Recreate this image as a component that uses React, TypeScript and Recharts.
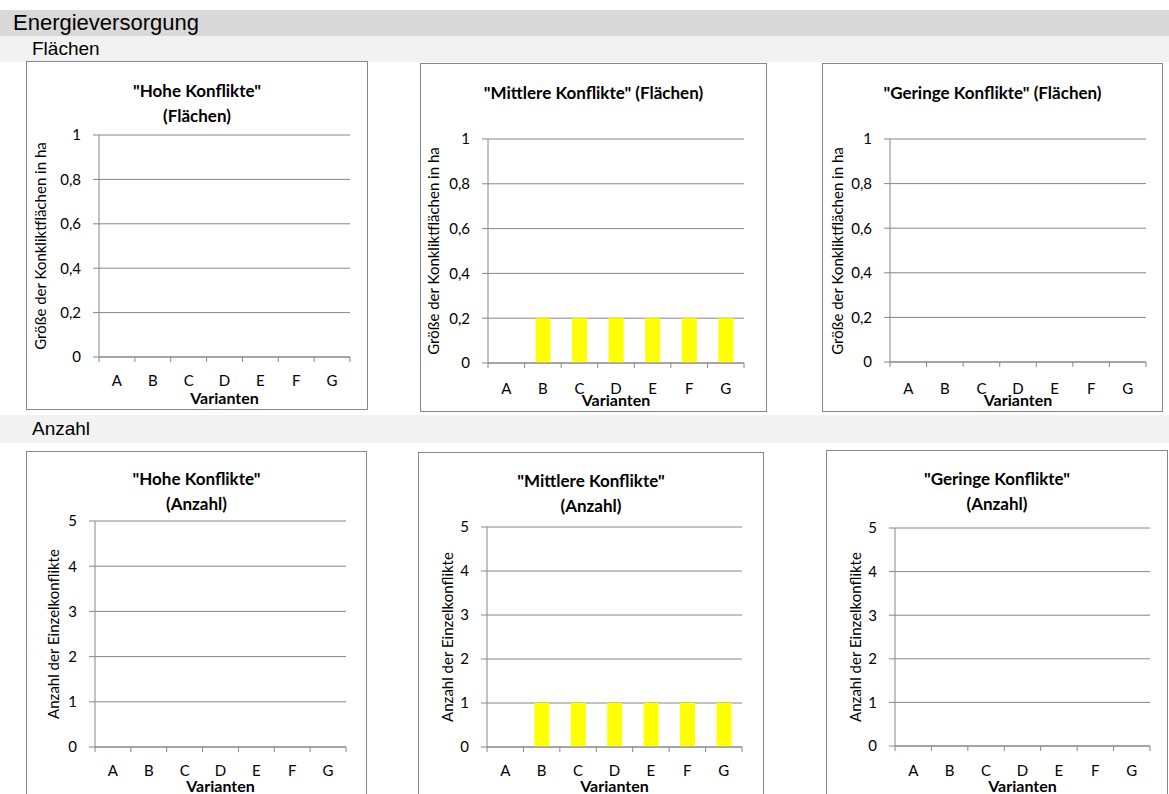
import { BarChart, Bar, XAxis, YAxis, CartesianGrid } from "recharts";

const categories = ["A", "B", "C", "D", "E", "F", "G"];

const hoheFlaechen = [0, 0, 0, 0, 0, 0, 0];
const mittlereFlaechen = [0, 0.2, 0.2, 0.2, 0.2, 0.2, 0.2];
const geringeFlaechen = [0, 0, 0, 0, 0, 0, 0];

const hoheAnzahl = [0, 0, 0, 0, 0, 0, 0];
const mittlereAnzahl = [0, 1, 1, 1, 1, 1, 1];
const geringeAnzahl = [0, 0, 0, 0, 0, 0, 0];

const flaechenTicks = [0, 0.2, 0.4, 0.6, 0.8, 1];
const anzahlTicks = [0, 1, 2, 3, 4, 5];

const flaechenLabel = "Größe der Konkliktflächen in ha";
const anzahlLabel = "Anzahl der Einzelkonflikte";

const GRID = "#868686";
const CHART_FONT = "Lato, 'Open Sans', sans-serif";
const HEAD_FONT = "'Liberation Sans', Arial, sans-serif";
const Y_W = 60;
const X_H = 40;

type PanelCfg = {
  box: number[]; // left, top, right, bottom
  plot: number[]; // left, top, right, bottom
  title: string[];
  titleY: number;
  yLabel: string;
  yLabelX: number;
  values: number[];
  ticks: number[];
  catDy: number;
  varDy: number;
};

const panels: PanelCfg[] = [
  {
    box: [26, 61, 368, 410],
    plot: [99, 135, 350, 357],
    title: ['"Hohe Konflikte"', "(Flächen)"],
    titleY: 90,
    yLabel: flaechenLabel,
    yLabelX: 40,
    values: hoheFlaechen,
    ticks: flaechenTicks,
    catDy: 23,
    varDy: 41,
  },
  {
    box: [420, 63, 767, 412],
    plot: [488, 139, 744, 363],
    title: ['"Mittlere Konflikte" (Flächen)'],
    titleY: 92,
    yLabel: flaechenLabel,
    yLabelX: 433,
    values: mittlereFlaechen,
    ticks: flaechenTicks,
    catDy: 25,
    varDy: 37,
  },
  {
    box: [822, 63, 1163, 412],
    plot: [890, 139, 1146, 362],
    title: ['"Geringe Konflikte" (Flächen)'],
    titleY: 92,
    yLabel: flaechenLabel,
    yLabelX: 837,
    values: geringeFlaechen,
    ticks: flaechenTicks,
    catDy: 26,
    varDy: 38,
  },
  {
    box: [26, 451, 367, 810],
    plot: [95, 521, 346, 747],
    title: ['"Hohe Konflikte"', "(Anzahl)"],
    titleY: 478,
    yLabel: anzahlLabel,
    yLabelX: 53,
    values: hoheAnzahl,
    ticks: anzahlTicks,
    catDy: 23,
    varDy: 39,
  },
  {
    box: [418, 452, 764, 810],
    plot: [487, 527, 742, 747],
    title: ['"Mittlere Konflikte"', "(Anzahl)"],
    titleY: 480,
    yLabel: anzahlLabel,
    yLabelX: 447,
    values: mittlereAnzahl,
    ticks: anzahlTicks,
    catDy: 23,
    varDy: 39,
  },
  {
    box: [826, 450, 1168, 810],
    plot: [895, 528, 1150, 746],
    title: ['"Geringe Konflikte"', "(Anzahl)"],
    titleY: 478,
    yLabel: anzahlLabel,
    yLabelX: 855,
    values: geringeAnzahl,
    ticks: anzahlTicks,
    catDy: 24,
    varDy: 40,
  },
];

// category labels sit in the band centre, tick marks go on the band edges
function categoryTick(props: any, dy: number) {
  const { x, y, payload, index, visibleTicksCount } = props;
  const half = payload?.offset || 18;
  return (
    <g>
      <line x1={x - half} x2={x - half} y1={y} y2={y + 5} stroke={GRID} />
      {index === visibleTicksCount - 1 && (
        <line x1={x + half} x2={x + half} y1={y} y2={y + 5} stroke={GRID} />
      )}
      <text
        x={x}
        y={y + dy}
        textAnchor="middle"
        dominantBaseline="central"
        fill="#000"
        fontSize={15}
        fontFamily={CHART_FONT}
      >
        {payload.value}
      </text>
    </g>
  );
}

function Panel({ cfg }: { cfg: PanelCfg }) {
  const [bl, bt, br, bb] = cfg.box;
  const [pl, pt, pr, pb] = cfg.plot;
  const ox = bl + 1;
  const oy = bt + 1;
  const w = br - bl - 2;
  const h = bb - bt - 2;
  const data = categories.map((name, i) => ({ name, value: cfg.values[i] }));
  const margin = {
    left: pl - ox - Y_W,
    top: pt - oy,
    right: ox + w - pr,
    bottom: oy + h - pb - X_H,
  };
  const max = cfg.ticks[cfg.ticks.length - 1];
  const cx = (bl + br) / 2;

  return (
    <>
      <div
        style={{
          position: "absolute",
          left: bl,
          top: bt,
          width: br - bl,
          height: bb - bt,
          boxSizing: "border-box",
          border: `1px solid ${GRID}`,
          background: "#fff",
        }}
      >
        <BarChart width={w} height={h} data={data} margin={margin} barCategoryGap="30%">
          <CartesianGrid vertical={false} stroke={GRID} />
          <XAxis
            dataKey="name"
            height={X_H}
            interval={0}
            tickSize={0}
            tickMargin={0}
            axisLine={{ stroke: GRID }}
            tickLine={false}
            tick={(p: any) => categoryTick(p, cfg.catDy)}
          />
          <YAxis
            type="number"
            domain={[0, max]}
            ticks={cfg.ticks}
            interval={0}
            width={Y_W}
            tickSize={6}
            tickMargin={12}
            axisLine={{ stroke: GRID }}
            tickLine={{ stroke: GRID }}
            tick={{ fill: "#000", fontSize: 15, fontFamily: CHART_FONT }}
            tickFormatter={(v: number) => String(v).replace(".", ",")}
          />
          <Bar dataKey="value" fill="#ffff00" isAnimationActive={false} />
        </BarChart>
      </div>
      <div
        style={{
          position: "absolute",
          left: cx - 170,
          width: 340,
          top: cfg.titleY - 12.5,
          lineHeight: "25px",
          textAlign: "center",
          fontFamily: CHART_FONT,
          fontWeight: 700,
          fontSize: 17,
          whiteSpace: "nowrap",
        }}
      >
        {cfg.title.map((t) => (
          <div key={t}>{t}</div>
        ))}
      </div>
      <div
        style={{
          position: "absolute",
          left: cfg.yLabelX,
          top: (pt + pb) / 2,
          width: 0,
          height: 0,
        }}
      >
        <span
          style={{
            position: "absolute",
            left: 0,
            top: 0,
            transform: "translate(-50%, -50%) rotate(-90deg)",
            whiteSpace: "nowrap",
            fontFamily: CHART_FONT,
            fontSize: 15,
          }}
        >
          {cfg.yLabel}
        </span>
      </div>
      <div
        style={{
          position: "absolute",
          left: (pl + pr) / 2 - 60,
          width: 120,
          top: pb + cfg.varDy - 9,
          lineHeight: "18px",
          textAlign: "center",
          fontFamily: CHART_FONT,
          fontWeight: 700,
          fontSize: 16,
        }}
      >
        Varianten
      </div>
    </>
  );
}

function Band({ top, height, bg, text, pad, size }: any) {
  return (
    <div
      style={{
        position: "absolute",
        left: 0,
        top,
        width: 1169,
        height,
        background: bg,
        lineHeight: `${height}px`,
        paddingLeft: pad,
        boxSizing: "border-box",
        fontFamily: HEAD_FONT,
        fontSize: size,
        color: "#000",
      }}
    >
      {text}
    </div>
  );
}

export default function App() {
  return (
    <div
      style={{
        position: "relative",
        width: 1169,
        height: 794,
        overflow: "hidden",
        background: "#fff",
      }}
    >
      <style>{"body{margin:0}"}</style>
      <Band top={10} height={26} bg="#d9d9d9" text="Energieversorgung" pad={13} size={22} />
      <Band top={36} height={26} bg="#f2f2f2" text="Flächen" pad={32} size={19} />
      <Band top={415} height={28} bg="#f2f2f2" text="Anzahl" pad={32} size={19} />
      {panels.map((cfg, i) => (
        <Panel key={i} cfg={cfg} />
      ))}
    </div>
  );
}
